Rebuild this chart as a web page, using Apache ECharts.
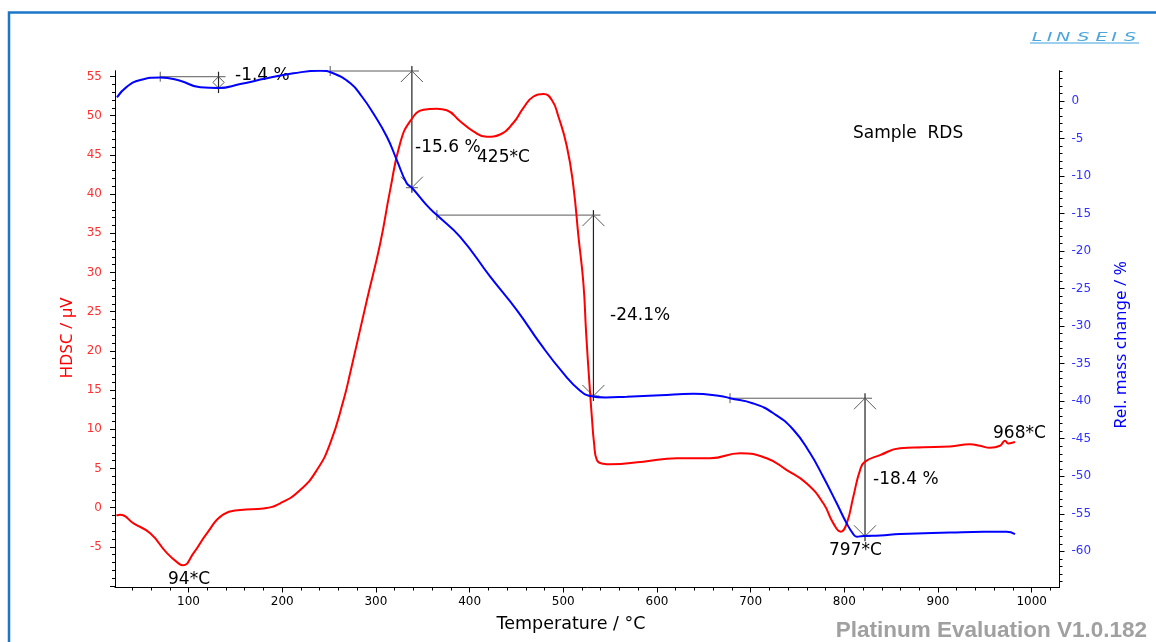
<!DOCTYPE html>
<html><head><meta charset="utf-8">
<script src="https://cdn.jsdelivr.net/npm/echarts@6/dist/echarts.min.js"></script>
<style>html,body{margin:0;padding:0;background:#fff}#c{width:1156px;height:642px}</style>
</head><body><div id="c"></div>
<script>
// DSC (HDSC / µV, left axis)
const dscTemp  = [23, 27, 41.3, 59.1, 77.0, 90.4, 94, 105.3, 119.6, 137.3, 155.2, 180, 197.9, 219.2, 237, 251.2, 265.4, 272.6, 290.4, 304.6, 315.2, 325.9, 336.6, 350.8, 365.1, 375.7, 389.9, 404.1, 418.4, 432.6, 446.8, 457.5, 468.2, 478.8, 487.8, 494.8, 503.8, 510.8, 516.2, 521.5, 524.4, 527.9, 530.5, 532.9, 535.8, 542.9, 550, 585.5, 621.2, 656.7, 688.7, 717.2, 738.6, 759.9, 777.6, 788.3, 796.2, 802.6, 809.6, 816.8, 822.1, 838.1, 859.5, 884.3, 912.8, 934.2, 944.8, 955.5, 966.2, 971.5, 975, 982.2];
const dscValue = [-1.0, -0.9, -2.0, -3.27, -5.8, -7.2, -7.35, -5.8, -3.27, -0.85, -0.3, -0.1, 0.56, 2.26, 4.8, 8.2, 13.7, 17.2, 26.5, 33.7, 40.5, 46.5, 49.3, 50.75, 50.9, 50.7, 49.3, 48.0, 47.3, 47.6, 49.1, 51.0, 52.45, 52.76, 52.0, 49.9, 46.1, 41.0, 34.6, 28.6, 22.3, 15.9, 11.6, 8.2, 6.1, 5.6, 5.53, 5.87, 6.3, 6.3, 6.94, 6.3, 4.8, 3.1, 0.56, -2.0, -3.06, -2.0, 1.4, 4.8, 5.87, 6.7, 7.58, 7.7, 7.8, 8.1, 7.9, 7.65, 7.9, 8.55, 8.2, 8.4];
// TG (Rel. mass change / %, right axis)
const tgTemp  = [23.6, 34.3, 48.5, 69.8, 91.1, 112.5, 132, 155.2, 183.7, 212, 240.5, 254.4, 272.8, 285, 297, 311.7, 322.4, 333, 338.4, 354.4, 365.1, 389.9, 422, 450.4, 475.3, 500.2, 518, 528.7, 545, 567.8, 603.4, 638.9, 667.4, 678, 702.9, 724.3, 745.6, 763.4, 777.6, 791.9, 802.6, 809.6, 813.3, 820.3, 838.1, 859.5, 912.8, 948.4, 973.3, 982.2];
const tgValue = [0.49, 1.92, 2.8, 3.15, 2.7, 1.82, 1.73, 2.27, 3.02, 3.69, 4.04, 3.7, 2.36, 0.6, -1.6, -4.76, -7.9, -11.0, -11.55, -13.9, -15.2, -18.1, -23.4, -27.85, -32.3, -36.3, -38.6, -39.3, -39.5, -39.4, -39.2, -39.0, -39.3, -39.6, -40.3, -41.6, -43.8, -46.9, -50.1, -53.6, -56.3, -57.7, -58.05, -57.96, -57.9, -57.7, -57.5, -57.4, -57.4, -57.7];
// Mass-loss steps (temperature of vertical, upper level, lower level, start temperature of horizontal)
const stepTemp   = [132, 338.4, 532.2, 822.1];
const stepTop    = [3.24, 4.0, -15.2, -39.6];
const stepBottom = [1.73, -11.55, -39.3, -58.0];
const stepStart  = [69.8, 251.2, 365.1, 678];
const stepLabels = ['-1.4 %', '-15.6 %', '-24.1%', '-18.4 %'];
const peakLabels = ['94*C', '425*C', '797*C', '968*C'];
// Tick values
const xLabelVals = [100, 200, 300, 400, 500, 600, 700, 800, 900, 1000];
const leftMajor = [-10, -5, 0, 5, 10, 15, 20, 25, 30, 35, 40, 45, 50, 55];
const leftLabelVals = [-5, 0, 5, 10, 15, 20, 25, 30, 35, 40, 45, 50, 55];
const rightLabelVals = [0, -5, -10, -15, -20, -25, -30, -35, -40, -45, -50, -55, -60];
const xMinor = []; for (let v = 40; v <= 1020; v += 20) xMinor.push(v);
const leftMinor = []; for (let v = -10; v <= 55; v += 1) leftMinor.push(v);
const rightMinor = []; for (let v = -64; v <= 4; v += 1) rightMinor.push(v);

const X_MIN = 21.5, X_MAX = 1029.7;
const L_MIN = -10.18, L_MAX = 55.74;
const R_MIN = -64.82, R_MAX = 4.04;

const chart = echarts.init(document.getElementById('c'), null, {renderer: 'canvas'});
const tickFont = {fontFamily: 'DejaVu Sans', fontSize: 12};
const black = {color: '#000', width: 1};
const plain = v => String(v);

const stepData = stepTemp.map((t, i) => [t, stepTop[i], stepBottom[i], stepStart[i]]);

function renderStep(params, api) {
  const t = api.value(0), top = api.value(1), bot = api.value(2), start = api.value(3);
  const pT = api.coord([t, top]);
  const pB = api.coord([t, bot]);
  const pS = api.coord([start, top]);
  const a = Math.min(11, (pB[1] - pT[1]) * 0.5);
  const gray = {stroke: '#5a5a5a', lineWidth: 1, fill: 'none'};
  const dark = {stroke: '#222', lineWidth: 1.2, fill: 'none'};
  return {
    type: 'group',
    children: [
      {type: 'line', shape: {x1: pS[0], y1: pS[1], x2: pT[0] + 7, y2: pT[1]}, style: gray},
      {type: 'line', shape: {x1: pS[0], y1: pS[1] - 5, x2: pS[0], y2: pS[1] + 5}, style: gray},
      {type: 'line', shape: {x1: pT[0], y1: pT[1] - 5, x2: pT[0], y2: pB[1] + 5}, style: dark},
      {type: 'line', shape: {x1: pB[0] - 6, y1: pB[1], x2: pB[0] + 6, y2: pB[1]}, style: gray},
      {type: 'polyline', shape: {points: [[pT[0] - a, pT[1] + a], [pT[0], pT[1]], [pT[0] + a, pT[1] + a]]}, style: gray},
      {type: 'polyline', shape: {points: [[pB[0] - a, pB[1] - a], [pB[0], pB[1]], [pB[0] + a, pB[1] - a]]}, style: gray}
    ]
  };
}

const txt = (text, x, y, opt) => ({
  type: 'text', x: x, y: y, silent: true,
  style: Object.assign({text: text, fill: '#000', font: '17px "DejaVu Sans"', align: 'left', verticalAlign: 'middle'}, opt || {})
});

const logoLetters = ['L', 'I', 'N', 'S', 'E', 'I', 'S'];
const logoX = [1037, 1049.5, 1063.3, 1083.3, 1101.5, 1114, 1130];

const graphics = [
  {type: 'rect', shape: {x: 9, y: 12.5, width: 1200, height: 700}, style: {fill: 'none', stroke: '#1b75c9', lineWidth: 2.5}, silent: true},
  txt(stepLabels[0], 235, 76),
  txt(stepLabels[1], 415, 148),
  txt(peakLabels[1], 477, 158),
  txt(stepLabels[2], 610, 316),
  txt(stepLabels[3], 873, 480),
  txt(peakLabels[0], 168, 580),
  txt(peakLabels[2], 829, 551),
  txt(peakLabels[3], 993, 434),
  txt('Sample  RDS', 853, 134),
  txt('Temperature / °C', 571, 624, {font: '17.5px "DejaVu Sans"', align: 'center'}),
  Object.assign(txt('HDSC / µV', 67, 338, {font: '17px "Noto Sans"', fill: '#ff0000', align: 'center'}), {rotation: Math.PI / 2}),
  Object.assign(txt('Rel. mass change / %', 1121, 345, {font: '17px "Noto Sans"', fill: '#0000ff', align: 'center'}), {rotation: Math.PI / 2}),
  txt('Platinum Evaluation V1.0.182', 1147, 631, {font: 'bold 22.5px "Liberation Sans"', fill: '#a0a0a0', align: 'right'}),
  {type: 'line', shape: {x1: 1030, y1: 43, x2: 1139, y2: 43}, style: {stroke: '#7cc0e8', lineWidth: 1.3}, silent: true}
];
logoLetters.forEach((ch, i) => {
  graphics.push({type: 'text', x: logoX[i], y: 38, scaleX: 1.6, silent: true,
    style: {text: ch, font: 'italic 12px "DejaVu Sans"', fill: '#4aa6dc', align: 'center', verticalAlign: 'middle'}});
});

const option = {
  animation: false,
  backgroundColor: '#fff',
  grid: {left: 115, right: 96.5, top: 70.7, bottom: 54.5, containLabel: false},
  xAxis: [
    {type: 'value', min: X_MIN, max: X_MAX, position: 'bottom',
     axisLine: {show: true, onZero: false, lineStyle: black},
     axisTick: {show: true, length: 5, customValues: xLabelVals, lineStyle: black},
     axisLabel: Object.assign({customValues: xLabelVals, color: '#000', margin: 8, formatter: plain}, tickFont),
     splitLine: {show: false}},
    {type: 'value', min: X_MIN, max: X_MAX, position: 'bottom',
     axisLine: {show: false, onZero: false}, axisLabel: {show: false}, splitLine: {show: false},
     axisTick: {show: true, length: 3, customValues: xMinor, lineStyle: black}}
  ],
  yAxis: [
    {type: 'value', min: L_MIN, max: L_MAX, position: 'left',
     axisLine: {show: true, onZero: false, lineStyle: black},
     axisTick: {show: true, length: 5, customValues: leftMajor, lineStyle: black},
     axisLabel: Object.assign({customValues: leftLabelVals, color: '#ff3030', margin: 13, formatter: plain}, tickFont),
     splitLine: {show: false}},
    {type: 'value', min: R_MIN, max: R_MAX, position: 'right',
     axisLine: {show: true, onZero: false, lineStyle: black},
     axisTick: {show: true, length: 5, customValues: rightLabelVals, lineStyle: black},
     axisLabel: Object.assign({customValues: rightLabelVals, color: '#3030ff', margin: 12, formatter: plain}, tickFont),
     splitLine: {show: false}},
    {type: 'value', min: L_MIN, max: L_MAX, position: 'left',
     axisLine: {show: false, onZero: false}, axisLabel: {show: false}, splitLine: {show: false},
     axisTick: {show: true, length: 3, customValues: leftMinor, lineStyle: black}},
    {type: 'value', min: R_MIN, max: R_MAX, position: 'right',
     axisLine: {show: false, onZero: false}, axisLabel: {show: false}, splitLine: {show: false},
     axisTick: {show: true, length: 3, customValues: rightMinor, lineStyle: black}}
  ],
  series: [
    {type: 'custom', name: 'steps', xAxisIndex: 0, yAxisIndex: 1, data: stepData,
     renderItem: renderStep, clip: false, silent: true, z: 1},
    {type: 'line', name: 'DSC', xAxisIndex: 0, yAxisIndex: 0, showSymbol: false, smooth: 0.5,
     data: dscTemp.map((t, i) => [t, dscValue[i]]), lineStyle: {color: '#ff0000', width: 2}, z: 3},
    {type: 'line', name: 'TG', xAxisIndex: 0, yAxisIndex: 1, showSymbol: false, smooth: 0.5,
     data: tgTemp.map((t, i) => [t, tgValue[i]]), lineStyle: {color: '#0000ff', width: 2}, z: 4}
  ],
  graphic: graphics
};
chart.setOption(option);
</script>
</body></html>
